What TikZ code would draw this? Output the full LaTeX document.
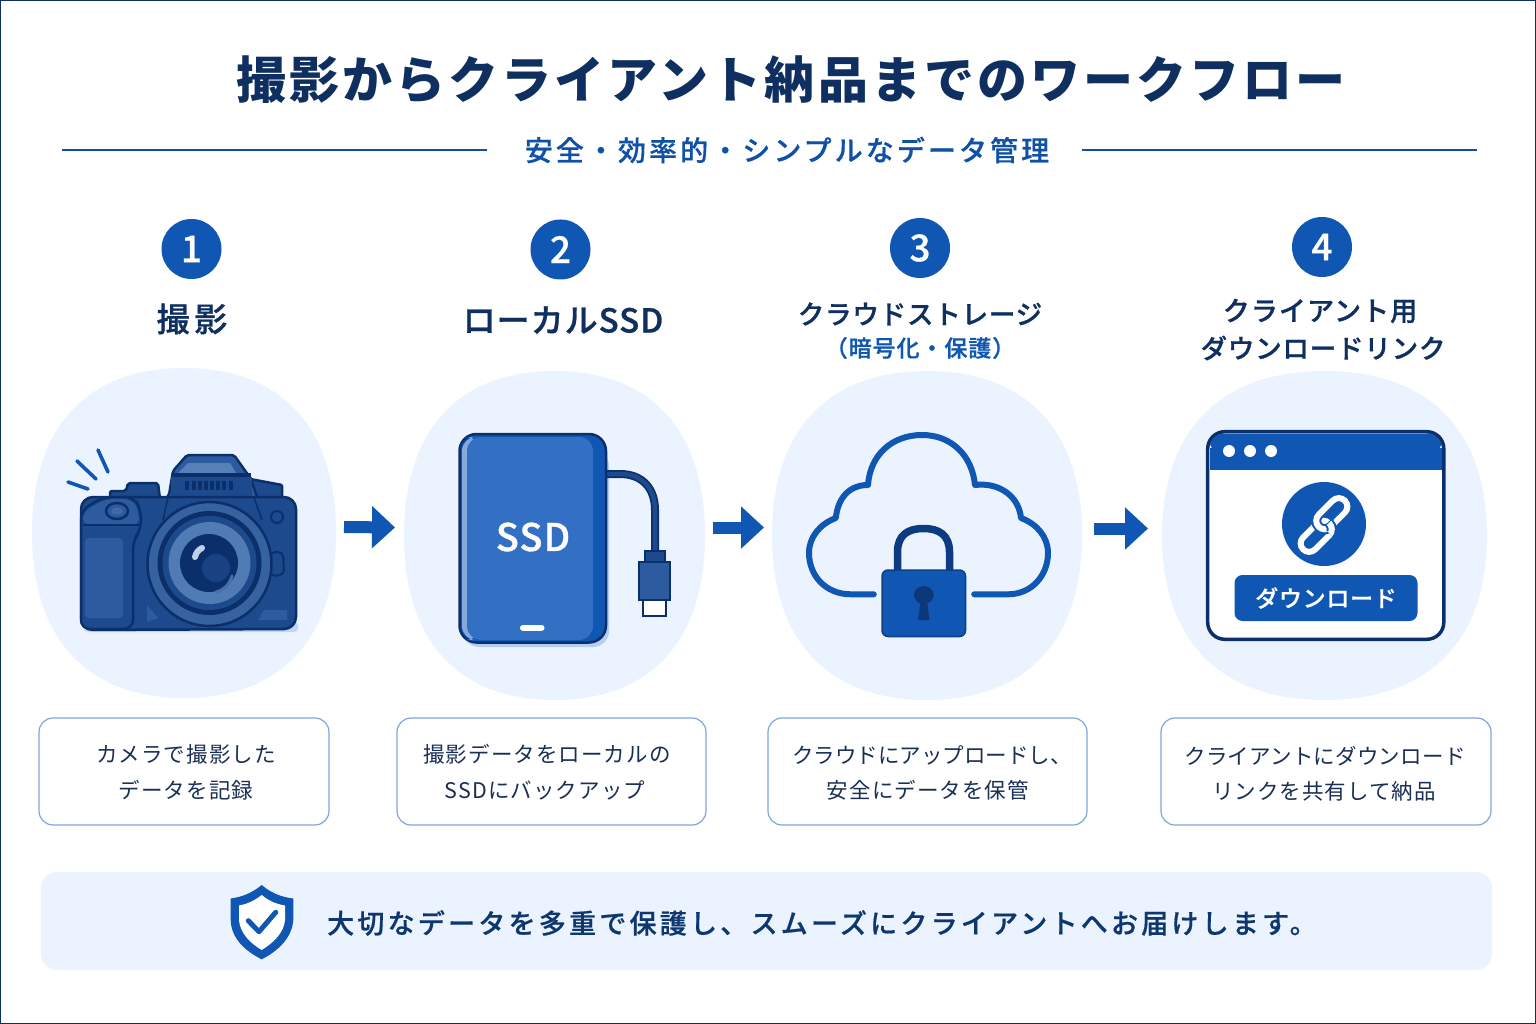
\documentclass[tikz,border=0pt]{standalone}
\usepackage{fontspec}
\usetikzlibrary{arrows.meta,calc}
\setmainfont{Noto Sans CJK JP}
\newfontfamily\jptitle[LetterSpace=6.2]{Noto Sans CJK JP}
\newfontfamily\jpsub[LetterSpace=11,FakeBold=0.5]{Noto Sans CJK JP Medium}
\newfontfamily\jphead[LetterSpace=4,FakeBold=0.8]{Noto Sans CJK JP Medium}
\newfontfamily\jpheadb[LetterSpace=3,FakeBold=0.8]{Noto Sans CJK JP Medium}
\newfontfamily\jpwide[LetterSpace=14,FakeBold=0.8]{Noto Sans CJK JP Medium}
\newfontfamily\jpbody[LetterSpace=5]{Noto Sans CJK JP}
\newfontfamily\jpbodyb[LetterSpace=0]{Noto Sans CJK JP}
\newfontfamily\jpbodyc[LetterSpace=1]{Noto Sans CJK JP}
\newfontfamily\jpband[LetterSpace=12,FakeBold=0.6]{Noto Sans CJK JP Medium}
\newfontfamily\jpbtn[LetterSpace=3,FakeBold=0.6]{Noto Sans CJK JP Medium}
\newfontfamily\latn[LetterSpace=3,FakeBold=0.8]{Noto Sans CJK JP Medium}
\definecolor{navy}{HTML}{0E2F5F}
\definecolor{brand}{HTML}{0F57B3}
\definecolor{ink}{HTML}{0B2F6B}
\definecolor{blobc}{HTML}{EBF4FE}
\definecolor{boxline}{HTML}{7EA6DE}
\definecolor{bodyc}{HTML}{1D4A8C}
\definecolor{midc}{HTML}{2C5C9F}
\definecolor{lightc}{HTML}{5680B8}
\definecolor{textc}{HTML}{1A2F55}
\definecolor{ssdc}{HTML}{3370C4}
\newcommand{\fs}[1]{\fontsize{#1}{#1}\selectfont}
\newcommand{\blobshape}[5]{%
  \node[anchorbox,minimum width=#4*2pt,minimum height=#5*2pt] (#1) at (#2,#3) {};
  \begin{scope}[shift={(#2,#3)},x=#4pt,y=-#5pt]
    \fill[blobc] (0,-1) .. controls (.62,-1) and (1,-.66) .. (1,0)
      .. controls (1,.66) and (.62,1) .. (0,1)
      .. controls (-.62,1) and (-1,.66) .. (-1,0)
      .. controls (-1,-.66) and (-.62,-1) .. (0,-1) -- cycle;
  \end{scope}}
\tikzset{
  anchorbox/.style={inner sep=0pt,outer sep=0pt},
  badge/.style={circle,fill=brand,text=white,minimum size=60pt,inner sep=0pt,font=\jpbtn\fs{37}},
  head/.style={text=navy,font=\jphead\fs{27},inner sep=0pt},
  headb/.style={text=navy,font=\jpheadb\fs{26.5},inner sep=0pt},
  bighead/.style={text=navy,font=\jpheadb\fs{33},inner sep=0pt},
  desc/.style={text=textc,font=\jpbody\fs{21.5},inner sep=0pt},
  descbox/.style={draw=boxline,line width=1.2pt,fill=white,rounded corners=14pt,inner sep=0pt},
  flow/.style={draw=brand,line width=12pt,-{Triangle[length=23pt,width=41pt]}},
  rule/.style={draw=brand!80!navy,line width=1.5pt},
  outline/.style={draw=ink,line width=2.5pt,line join=round},
}
\begin{document}
\begin{tikzpicture}[x=1pt,y=-1pt]
\useasboundingbox (0,0) rectangle (1536,1024);
\fill[white] (0,0) rectangle (1536,1024);
\draw[navy,line width=2pt] (0,0) rectangle (1536,1024);

% title
\node[text=navy,font=\jptitle\fs{50}\bfseries,inner sep=0pt] (title) at (791,80) {撮影からクライアント納品までのワークフロー};
\node[text=brand!85!navy,font=\jpsub\fs{28},inner sep=0pt] (subtitle) at (787,150) {安全・効率的・シンプルなデータ管理};
\coordinate (ruleLa) at (62,150);
\coordinate (ruleRb) at (1477,150);
\draw[rule] (ruleLa) -- (487,150);
\draw[rule] (1082,150) -- (ruleRb);

% blobs
\blobshape{b1}{184}{533}{152}{165}
\blobshape{b2}{554.5}{535.5}{150.5}{164.5}
\blobshape{b3}{927}{535.5}{155}{164.5}
\blobshape{b4}{1324.5}{535.5}{162.5}{164.5}

% badges
\node[badge] (n1) at (191.5,249) {1};
\node[badge] (n2) at (560.5,249.5) {2};
\node[badge] (n3) at (920,248) {3};
\node[badge] (n4) at (1322,247) {4};

% headings
\node[text=navy,font=\jpwide\fs{33},inner sep=0pt] (h1) at (192,319) {撮影};
\node[bighead] (h2) at (563,320) {ローカルSSD};
\node[headb] (h3) at (920,314) {クラウドストレージ};
\node[text=brand,font=\jphead\fs{23},inner sep=0pt] (h3b) at (920,348) {（暗号化・保護）};
\node[head] (h4) at (1320,311) {クライアント用};
\node[headb] (h4b) at (1323,348) {ダウンロードリンク};

% arrows
\draw[flow] ([shift={(8,-6)}]b1.east) -- ([shift={(-9,-8)}]b2.west);
\draw[flow] ([shift={(8,-8)}]b2.east) -- ([shift={(-8,-8)}]b3.west);
\draw[flow] ([shift={(12,-7)}]b3.east) -- ([shift={(-14,-7)}]b4.west);

% camera
\fill[blobc!60!boxline,rounded corners=4pt] (84,622) rectangle (298,632);
\draw[outline,fill=bodyc,rounded corners=2pt] (110,499) -- (110,491) -- (126,491) -- (128,483) -- (158,483) -- (160,499) -- cycle;
\draw[outline,fill=bodyc,rounded corners=1pt] (250,479) -- (282,485) -- (282,500) -- (250,500) -- cycle;
\draw[outline,fill=midc,rounded corners=2pt] (187,455) -- (234,455) -- (251,479) -- (258,500) -- (165,500) -- (169,495) -- (173,471) -- cycle;
\fill[lightc] (178,473) -- (188,463) -- (230,463) -- (236,473) -- cycle;
\fill[ink] (172,473) rectangle (251,477);
\fill[bodyc] (171,477) rectangle (252,497);
\foreach \bx in {185,192,198,204,210,216,222,229}
  \fill[ink] (\bx,481) rectangle +(3.5,9);
\draw[outline,fill=bodyc,rounded corners=12pt] (81,630) -- (81,497) -- (296,497) -- (296,629) -- cycle;
\draw[outline,fill=bodyc,rounded corners=9pt] (81,629) -- (81,510) -- (104,497) -- (134,497) -- (141,510) -- (141,530) -- (133,540) -- (133,629) -- cycle;
\fill[midc,rounded corners=8pt] (83,525) -- (83,512) -- (106,499) -- (132,499) -- (139,512) -- (139,525) -- cycle;
\draw[ink,line width=2pt] (83,525) -- (139,525);
\fill[midc,rounded corners=4pt] (85,538) rectangle (123,618);
\draw[ink,line width=2.5pt,fill=midc] (117,511) ellipse [x radius=11,y radius=8];
\fill[lightc!60!bodyc] (117,511) ellipse [x radius=6,y radius=3.5];
\draw[ink,line width=2pt,fill=bodyc] (277,517) circle [radius=6];
\draw[ink,line width=2pt,fill=bodyc,rounded corners=5pt] (270,552) -- (283,552) -- (284,575) -- (270,576) -- cycle;
\draw[ink,line width=1.5pt] (168,498) -- (163,520);
\draw[ink,line width=1.5pt] (254,498) -- (262,520);
\fill[midc] (147,605) -- (158,618) -- (147,622) -- cycle;
\fill[midc] (264,610) -- (287,610) -- (287,620) -- (258,620) -- cycle;
\draw[ink,line width=2.5pt,fill=lightc!45!bodyc] (209.5,564) circle [radius=62];
\fill[ink] (209.5,563) circle [radius=52];
\fill[bodyc] (209.5,563) circle [radius=47];
\fill[lightc!90!bodyc] (209.5,563) circle [radius=41];
\fill[ink] (209,563) circle [radius=29];
\fill[bodyc!70!ink] (216,568) circle [radius=14];
\draw[lightc!70!bodyc,line width=3pt,line cap=round] (216,592) .. controls (224,590) and (230,584) .. (232,576);
\draw[blobc!70!lightc,line width=6pt,line cap=round] (195,557) .. controls (196,553) and (198,550) .. (202,548);
\foreach \a/\b/\c/\d in {68/482/88/489,77/461/96/479,98/450/108/472}
  \draw[brand,line width=3.6pt,line cap=round] (\a,\b) -- (\c,\d);

% SSD
\fill[blobc!50!boxline,rounded corners=16pt] (463,450) rectangle (609,647);
\draw[ink,line width=8pt,line cap=butt] (606,474) -- (620,474) .. controls (642,474) and (655,488) .. (655,510) -- (655,552);
\draw[bodyc,line width=4.5pt] (606,474) -- (620,474) .. controls (642,474) and (655,488) .. (655,510) -- (655,552);
\draw[ink,line width=2pt,fill=bodyc] (645,550.7) rectangle (665,562);
\draw[ink,line width=2pt,fill=midc] (639.3,562) rectangle (670,600);
\draw[ink,line width=2pt,fill=white] (643.3,600) rectangle (665.7,616);
\draw[ink,line width=2.5pt,fill=brand,rounded corners=17pt] (459.5,434) rectangle (606,642.5);
\fill[ssdc!60!white,rounded corners=14pt] (462,437) rectangle (480,640);
\fill[ssdc,rounded corners=14pt] (467,437) rectangle (593,640);
\node[text=white,font=\latn\fs{38},inner sep=0pt] (ssd) at (533,537) {SSD};
\fill[white,rounded corners=2.8pt] (520,625) rectangle (544.5,630.8);

% cloud
\draw[brand,line width=6pt,line cap=round,line join=round]
  (873.8,594.3) -- (851,594.3)
  .. controls (825,594.3) and (809,575) .. (809,553)
  .. controls (809,537) and (820,524) .. (835.8,518)
  .. controls (838,497) and (850,485) .. (868,485)
  .. controls (870,455) and (892,435) .. (922,435)
  .. controls (951,435) and (972,455) .. (975,485)
  .. controls (1000,482) and (1019,497) .. (1021,518)
  .. controls (1037,524) and (1048,537) .. (1048,553)
  .. controls (1048,575) and (1032,594.3) .. (1008,594.3)
  -- (974.2,594.3);
\draw[ink!70!brand,line width=7.5pt] (897.5,572) -- (897.5,552)
  .. controls (897.5,535) and (908,528.5) .. (923.5,528.5)
  .. controls (939,528.5) and (949.5,535) .. (949.5,552) -- (949.5,572);
\draw[ink!60!brand,line width=1.5pt,fill=brand,rounded corners=6pt] (882,570) rectangle (965.5,636.5);
\fill[ink!80!brand] (923.8,595) ellipse [x radius=9.8,y radius=9];
\fill[ink!80!brand] (921,598) -- (926.6,598) -- (929.5,620) -- (918,620) -- cycle;

% window
\fill[white,rounded corners=17pt] (1207.7,431.7) rectangle (1443.8,639.3);
\fill[brand,rounded corners=15pt] (1209.5,433.5) rectangle (1442,455);
\fill[brand] (1209.5,448) rectangle (1442,470);
\draw[ink,line width=3.5pt,rounded corners=17pt] (1207.7,431.7) rectangle (1443.8,639.3);
\foreach \dx in {1229,1250,1271}
  \fill[white] (\dx,451) circle [radius=6];
\fill[brand] (1324,524) circle [radius=42];
\begin{scope}[shift={(1324,525)},rotate=45]
  \draw[white,line width=6pt,rounded corners=8.5pt] (-32,-6) rectangle (5,11);
  \draw[brand,line width=10pt,rounded corners=8.5pt] (-5,-11) rectangle (32,6);
  \draw[white,line width=6pt,rounded corners=8.5pt] (-5,-11) rectangle (32,6);
  \begin{scope}
    \clip (-2,2) rectangle (12,15);
    \draw[brand,line width=10pt,rounded corners=8.5pt] (-32,-6) rectangle (5,11);
    \draw[white,line width=6pt,rounded corners=8.5pt] (-32,-6) rectangle (5,11);
  \end{scope}
\end{scope}
\node[rectangle,fill=brand,rounded corners=8pt,minimum width=183pt,minimum height=46pt,inner sep=0pt,text=white,font=\jpbtn\fs{23}] (dl) at (1326,598) {ダウンロード};

% description boxes
\node[descbox,minimum width=290pt,minimum height=107pt] (d1) at (184,771.5) {};
\node[descbox,minimum width=309pt,minimum height=107pt] (d2) at (551.5,771.5) {};
\node[descbox,minimum width=319pt,minimum height=107pt] (d3) at (927.5,771.5) {};
\node[descbox,minimum width=330pt,minimum height=107pt] (d4) at (1326,771.5) {};
\node[desc] (t1a) at (186,754) {カメラで撮影した};
\node[desc] (t1b) at (186,790) {データを記録};
\node[desc] (t2a) at (547,754) {撮影データをローカルの};
\node[desc] (t2b) at (545,790) {SSDにバックアップ};
\node[desc,font=\jpbodyb\fs{21.5}] (t3a) at (932,755) {クラウドにアップロードし、};
\node[desc] (t3b) at (928,790) {安全にデータを保管};
\node[desc,font=\jpbodyc\fs{21.5}] (t4a) at (1325,756) {クライアントにダウンロード};
\node[desc] (t4b) at (1324,791) {リンクを共有して納品};

% band
\node[fill=blobc,rounded corners=16pt,minimum width=1451pt,minimum height=98pt,inner sep=0pt] (band) at (766.5,921) {};
\node[anchor=west,text=navy!80!brand,font=\jpband\fs{27},inner sep=0pt] (bandtext) at (327,923) {大切なデータを多重で保護し、スムーズにクライアントへお届けします。};
% shield
\fill[brand,line join=round] (261.7,885) .. controls (252,893) and (242,897) .. (230.7,898.5)
  -- (230.7,920) .. controls (231,938) and (245,951) .. (261.7,959.3)
  .. controls (278,951) and (292,938) .. (293.3,920) -- (293.3,898.5)
  .. controls (281,897) and (271,893) .. (261.7,885) -- cycle;
\fill[white] (261.7,895) .. controls (254,901) and (247,904) .. (239,905.5)
  -- (239,920) .. controls (240,933) and (250,943) .. (261.7,950)
  .. controls (273,943) and (284,933) .. (285,920) -- (285,905.5)
  .. controls (276,904) and (269,901) .. (261.7,895) -- cycle;
\draw[brand,line width=5pt,line cap=round,line join=round] (248.3,920.7) -- (259,931.7) -- (275.7,912.3);
\end{tikzpicture}
\end{document}
